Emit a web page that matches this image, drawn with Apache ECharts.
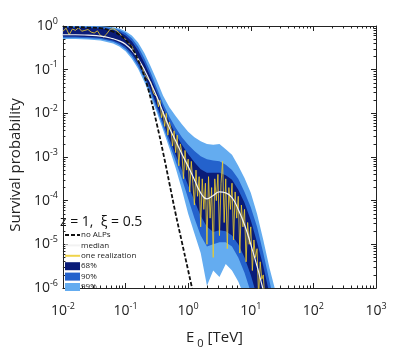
<!DOCTYPE html>
<html>
<head>
<meta charset="utf-8">
<script src="https://cdn.jsdelivr.net/npm/echarts@6/dist/echarts.min.js"></script>
<style>
  html, body { margin: 0; padding: 0; background: #fff; }
  #chart { width: 415px; height: 354px; }
</style>
</head>
<body>
<div id="chart"></div>
<script>
// all values, stored as log10 (energy in TeV, survival probability)
var logE = [-2, -1.8, -1.6, -1.4, -1.2, -1.1, -1.0, -0.9, -0.8, -0.7, -0.6, -0.5, -0.4, -0.3, -0.2, -0.1,
  0, 0.1, 0.2, 0.3, 0.4, 0.5, 0.6, 0.7, 0.8, 0.9, 1.0, 1.1, 1.2, 1.3, 1.4];

var up99 = [0, 0, 0, -0.005, -0.03, -0.06, -0.12, -0.22, -0.38, -0.62, -0.92, -1.25, -1.6, -1.86, -2.06, -2.25,
  -2.42, -2.55, -2.64, -2.7, -2.72, -2.7, -2.82, -2.95, -3.2, -3.48, -3.82, -4.3, -4.9, -5.55, -6.1];
var up90 = [-0.01, -0.01, -0.015, -0.02, -0.05, -0.09, -0.16, -0.28, -0.47, -0.74, -1.06, -1.42, -1.78, -2.08, -2.33, -2.55,
  -2.72, -2.86, -2.98, -3.05, -3.08, -3.1, -3.18, -3.3, -3.5, -3.8, -4.15, -4.6, -5.2, -5.85, -6.5];
var up68 = [-0.04, -0.04, -0.045, -0.055, -0.09, -0.13, -0.22, -0.35, -0.56, -0.84, -1.17, -1.52, -1.88, -2.2, -2.48, -2.72,
  -2.93, -3.12, -3.28, -3.36, -3.36, -3.36, -3.42, -3.52, -3.75, -4.05, -4.45, -4.95, -5.5, -6.15, -6.8];
var lo68 = [-0.24, -0.24, -0.25, -0.27, -0.33, -0.39, -0.48, -0.63, -0.85, -1.12, -1.45, -1.82, -2.2, -2.58, -2.95, -3.3,
  -3.65, -4.0, -4.35, -4.6, -4.72, -4.68, -4.7, -4.8, -5.0, -5.3, -5.7, -6.2, -6.8, -7.3, -7.8];
var lo90 = [-0.27, -0.27, -0.28, -0.3, -0.36, -0.43, -0.53, -0.69, -0.92, -1.2, -1.53, -1.9, -2.3, -2.7, -3.1, -3.5,
  -3.95, -4.4, -4.8, -5.05, -5.0, -4.95, -4.95, -5.05, -5.3, -5.65, -6.1, -6.6, -7.1, -7.6, -8.1];
var lo99 = [-0.3, -0.3, -0.31, -0.33, -0.4, -0.47, -0.58, -0.75, -0.98, -1.28, -1.62, -1.98, -2.38, -2.8, -3.25, -3.75,
  -4.3, -4.75, -5.2, -5.95, -5.6, -5.75, -5.45, -5.6, -5.85, -6.2, -6.5, -7.0, -7.5, -8.0, -8.5];
var medianP = [-0.2, -0.2, -0.21, -0.23, -0.29, -0.34, -0.42, -0.55, -0.75, -1.0, -1.3, -1.62, -1.98, -2.33, -2.63, -2.93,
  -3.22, -3.52, -3.82, -3.96, -3.88, -3.8, -3.82, -3.93, -4.2, -4.55, -5.0, -5.5, -6.05, -6.6, -7.0];

var noAlpsE = [-2, -1.8, -1.6, -1.4, -1.2, -1.1, -1.0, -0.9, -0.8, -0.7, -0.6, -0.5, -0.4, -0.3, -0.2, -0.1, 0, 0.1];
var noAlpsP = [-0.02, -0.025, -0.035, -0.05, -0.13, -0.2, -0.32, -0.5, -0.78, -1.15, -1.65, -2.25, -2.9, -3.6, -4.3, -4.95, -5.6, -6.25];

// one realization: [log10 E, log10 P]
var realization = [
  [-2.00, -0.12], [-1.95, -0.05], [-1.90, -0.2], [-1.85, -0.07], [-1.80, -0.1], [-1.75, -0.04], [-1.70, -0.12],
  [-1.65, -0.1], [-1.60, -0.08], [-1.55, -0.14], [-1.50, -0.16], [-1.45, -0.11], [-1.40, -0.22], [-1.35, -0.25],
  [-1.30, -0.18], [-1.25, -0.08], [-1.20, -0.06], [-1.15, -0.1], [-1.10, -0.16], [-1.05, -0.25], [-1.00, -0.3],
  [-0.95, -0.4], [-0.90, -0.46], [-0.85, -0.62], [-0.80, -0.8], [-0.75, -0.88], [-0.70, -1.1], [-0.65, -1.2],
  [-0.60, -1.28], [-0.55, -1.55], [-0.50, -1.62],
  [-0.475, -1.85], [-0.45, -1.7], [-0.425, -2.1], [-0.4, -1.95], [-0.375, -2.3], [-0.35, -2.0], [-0.325, -2.5],
  [-0.3, -2.2], [-0.275, -2.35], [-0.25, -2.75], [-0.225, -2.4], [-0.2, -2.9], [-0.175, -2.5], [-0.15, -3.2],
  [-0.125, -2.7], [-0.1, -2.9], [-0.075, -3.5], [-0.05, -2.85], [-0.025, -3.3], [0, -3.05], [0.025, -3.8],
  [0.05, -3.1], [0.075, -3.6], [0.1, -4.1], [0.125, -3.3], [0.15, -3.9], [0.175, -3.45], [0.2, -4.6],
  [0.225, -3.5], [0.25, -4.2], [0.275, -3.6], [0.3, -5.0], [0.325, -3.45], [0.35, -4.4], [0.375, -3.7],
  [0.4, -5.3], [0.425, -3.5], [0.45, -4.0], [0.475, -3.4], [0.5, -4.8], [0.525, -3.6], [0.55, -3.1],
  [0.575, -4.5], [0.6, -3.5], [0.625, -5.1], [0.65, -3.7], [0.675, -4.2], [0.7, -3.6], [0.725, -4.9],
  [0.75, -3.8], [0.775, -4.4], [0.8, -3.9], [0.825, -5.2], [0.85, -4.1], [0.875, -4.6], [0.9, -4.2],
  [0.925, -5.4], [0.95, -4.5], [0.975, -5.0], [1.0, -4.6], [1.025, -5.6], [1.05, -4.9], [1.075, -5.3],
  [1.1, -5.1], [1.125, -6.2], [1.15, -5.4], [1.175, -5.8], [1.2, -5.7], [1.225, -6.3], [1.25, -6.5]
];

var minorX = [];
var minorY = [];
for (var d = -2; d < 3; d++) for (var m = 2; m < 10; m++) minorX.push(m * Math.pow(10, d));
for (var d2 = -6; d2 < 0; d2++) for (var m2 = 2; m2 < 10; m2++) minorY.push(m2 * Math.pow(10, d2));

var FONT = 'Open Sans';
var pw = function (v) { return Math.pow(10, v); };
var pairs = function (xs, ys) { return xs.map(function (x, i) { return [pw(x), pw(ys[i])]; }); };

function bandSeries(name, color, upper, lower) {
  return {
    name: name,
    type: 'custom',
    clip: true,
    itemStyle: { color: color },
    data: [[0.01, 1]],
    renderItem: function (params, api) {
      var pts = [];
      for (var i = 0; i < logE.length; i++) pts.push(api.coord([pw(logE[i]), pw(upper[i])]));
      for (var j = logE.length - 1; j >= 0; j--) pts.push(api.coord([pw(logE[j]), pw(lower[j])]));
      return { type: 'polygon', shape: { points: pts }, style: { fill: color } };
    }
  };
}

function expLabel(v) {
  var e = Math.round(Math.log10(v));
  return '{b|10}{e|' + e + '}';
}
var labelRich = {
  b: { fontSize: 14, fontFamily: FONT, color: '#222' },
  e: { fontSize: 9, fontFamily: FONT, color: '#222', padding: [0, 0, 10, 0] }
};

function axisPair(dim, pos, main) {
  var base = {
    type: 'log', logBase: 10, position: pos,
    min: dim === 'x' ? 0.01 : 1e-6, max: dim === 'x' ? 1000 : 1,
    interval: 1,
    splitLine: { show: false },
    axisLine: { show: true, onZero: false, lineStyle: { color: '#222', width: 1 } },
    axisTick: { show: true, inside: true, length: 5, lineStyle: { color: '#222' } },
    axisLabel: { show: false }
  };
  if (main) {
    base.axisLabel = { show: true, formatter: expLabel, rich: labelRich, margin: dim === 'x' ? 14 : 5 };
  }
  var minor = {
    type: 'log', logBase: 10, position: pos,
    min: base.min, max: base.max,
    splitLine: { show: false },
    axisLine: { show: false, onZero: false },
    axisTick: { show: true, inside: true, length: 2.5, customValues: dim === 'x' ? minorX : minorY, lineStyle: { color: '#222' } },
    axisLabel: { show: false }
  };
  return [base, minor];
}

var xAxes = axisPair('x', 'bottom', true).concat(axisPair('x', 'top', false));
var yAxes = axisPair('y', 'left', true).concat(axisPair('y', 'right', false));
xAxes[0].name = '{n|E}{s|0}{n|[TeV]}';
xAxes[0].nameLocation = 'middle';
xAxes[0].nameGap = 38;
xAxes[0].nameTextStyle = {
  padding: [0, 10, 0, 0],
  rich: {
    n: { fontSize: 15, fontFamily: FONT, color: '#222' },
    s: { fontSize: 11, fontFamily: FONT, color: '#222', padding: [12, 4, 0, 3] }
  }
};
yAxes[0].name = 'Survival probability';
yAxes[0].nameLocation = 'middle';
yAxes[0].nameGap = 38;
yAxes[0].nameTextStyle = { fontSize: 15, fontFamily: FONT, color: '#222', padding: [0, 0, 0, -16] };

var hideDot = { opacity: 0 };

var chart = echarts.init(document.getElementById('chart'));
chart.setOption({
  animation: false,
  backgroundColor: '#fff',
  grid: { left: 56, top: 26, right: 39, bottom: 57 },
  xAxis: xAxes,
  yAxis: yAxes,
  legend: {
    orient: 'vertical',
    left: 64,
    top: 231,
    itemWidth: 15,
    itemHeight: 8,
    itemGap: 2.4,
    padding: 0,
    textStyle: { fontSize: 8, fontFamily: FONT, color: '#222', lineHeight: 8, padding: [0, 0, 0, -4] },
    data: [
      { name: 'no ALPs', itemStyle: hideDot },
      { name: 'median', itemStyle: hideDot },
      { name: 'one realization', itemStyle: hideDot },
      { name: '68%', icon: 'rect' },
      { name: '90%', icon: 'rect' },
      { name: '99%', icon: 'rect' }
    ]
  },
  graphic: [{
    type: 'text', left: 60, top: 215,
    style: { text: 'z = 1,  \u03be = 0.5', fontSize: 14, fontFamily: FONT, fill: '#111' }
  }],
  series: [
    bandSeries('99%', '#64acf0', up99, lo99),
    bandSeries('90%', '#2462cc', up90, lo90),
    bandSeries('68%', '#0a1c78', up68, lo68),
    {
      name: 'one realization', type: 'line', symbol: 'none',
      data: realization.map(function (p) { return [pw(p[0]), pw(p[1])]; }),
      lineStyle: { color: 'rgba(236,204,44,0.85)', width: 1 },
      itemStyle: { color: '#e8cc3a' }
    },
    {
      name: 'median', type: 'line', symbol: 'none', smooth: true,
      data: pairs(logE, medianP),
      lineStyle: { color: '#f2f2f2', width: 1.2 },
      itemStyle: { color: '#e6e6e6' }
    },
    {
      name: 'no ALPs', type: 'line', symbol: 'none', smooth: true,
      data: pairs(noAlpsE, noAlpsP),
      lineStyle: { color: '#111', width: 1.8, type: [4, 2] },
      itemStyle: { color: '#111' }
    }
  ]
});
</script>
</body>
</html>
